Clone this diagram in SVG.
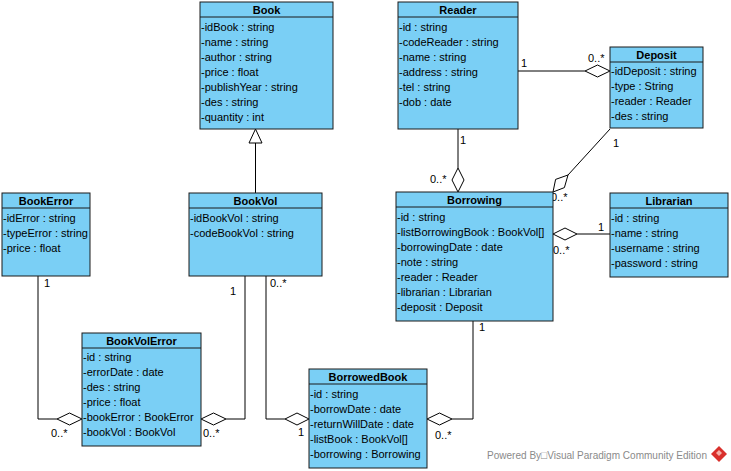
<svg xmlns="http://www.w3.org/2000/svg" width="731" height="471" viewBox="0 0 731 471">
<style>
.box{fill:#7ACFF5;stroke:#1a1a1a;stroke-width:1}
.sep{stroke:#1a1a1a;stroke-width:1}
.t{font-family:"Liberation Sans",Arial,sans-serif;font-size:11px;fill:#000}
.h{font-family:"Liberation Sans",Arial,sans-serif;font-size:11px;font-weight:bold;fill:#000;text-anchor:middle}
.ln{fill:none;stroke:#000;stroke-width:1}
.dia{fill:#fff;stroke:#000;stroke-width:1}
.lb{font-family:"Liberation Sans",Arial,sans-serif;font-size:11px;fill:#000}
.wm{font-family:"Liberation Sans",Arial,sans-serif;font-size:11px;fill:#8a8a8a}
</style>
<rect width="731" height="471" fill="#fff"/>
<g id="connectors">
  <line class="ln" x1="255.5" y1="143" x2="255.5" y2="193"/>
  <polygon class="dia" points="255.5,129 249,143 262,143"/>
  <line class="ln" x1="518" y1="71" x2="585" y2="71"/>
  <polygon class="dia" points="585,71 597.5,65 610,71 597.5,77"/>
  <line class="ln" x1="458" y1="129" x2="458" y2="168"/>
  <polygon class="dia" points="458,168 464,180 458,192 452,180"/>
  <line class="ln" x1="610" y1="129" x2="568" y2="175"/>
  <polygon class="dia" points="568,175 564.4,187.6 553,192 555.6,179.4"/>
  <line class="ln" x1="577" y1="234" x2="610" y2="234"/>
  <polygon class="dia" points="553,234 565,228 577,234 565,240"/>
  <polyline class="ln" points="38,276 38,419 57,419"/>
  <polygon class="dia" points="57,419 69.5,413 82,419 69.5,425"/>
  <polyline class="ln" points="245,276 245,419 226,419"/>
  <polygon class="dia" points="201,419 213.5,413 226,419 213.5,425"/>
  <polyline class="ln" points="266,276 266,419 285,419"/>
  <polygon class="dia" points="285,419 297,413 309,419 297,425"/>
  <polyline class="ln" points="473,321 473,419 452,419"/>
  <polygon class="dia" points="427,419 439.5,413 452,419 439.5,425"/>
  <text class="lb" x="521" y="67">1</text>
  <text class="lb" x="588" y="62">0..*</text>
  <text class="lb" x="460" y="144">1</text>
  <text class="lb" x="430" y="183">0..*</text>
  <text class="lb" x="613" y="147">1</text>
  <text class="lb" x="551" y="201">0..*</text>
  <text class="lb" x="598" y="231">1</text>
  <text class="lb" x="553" y="254">0..*</text>
  <text class="lb" x="44" y="287">1</text>
  <text class="lb" x="51" y="437">0..*</text>
  <text class="lb" x="230" y="295">1</text>
  <text class="lb" x="203" y="437">0..*</text>
  <text class="lb" x="270" y="287">0..*</text>
  <text class="lb" x="298" y="436">1</text>
  <text class="lb" x="479" y="331">1</text>
  <text class="lb" x="435" y="439">0..*</text>
</g>
<g id="Book">
  <rect class="box" x="200" y="2" width="133" height="127"/>
  <line class="sep" x1="200" y1="17" x2="333" y2="17"/>
  <text class="h" x="266.5" y="14">Book</text>
  <text class="t" x="201" y="31">-idBook : string</text>
  <text class="t" x="201" y="46">-name : string</text>
  <text class="t" x="201" y="61">-author : string</text>
  <text class="t" x="201" y="76">-price : float</text>
  <text class="t" x="201" y="91">-publishYear : string</text>
  <text class="t" x="201" y="106">-des : string</text>
  <text class="t" x="201" y="121">-quantity : int</text>
</g>
<g id="Reader">
  <rect class="box" x="398" y="2" width="120" height="127"/>
  <line class="sep" x1="398" y1="17" x2="518" y2="17"/>
  <text class="h" x="458" y="14">Reader</text>
  <text class="t" x="399" y="31">-id : string</text>
  <text class="t" x="399" y="46">-codeReader : string</text>
  <text class="t" x="399" y="61">-name : string</text>
  <text class="t" x="399" y="76">-address : string</text>
  <text class="t" x="399" y="91">-tel : string</text>
  <text class="t" x="399" y="106">-dob : date</text>
</g>
<g id="Deposit">
  <rect class="box" x="610" y="47" width="93" height="81"/>
  <line class="sep" x1="610" y1="62" x2="703" y2="62"/>
  <text class="h" x="656.5" y="59">Deposit</text>
  <text class="t" x="611" y="75">-idDeposit : string</text>
  <text class="t" x="611" y="90">-type : String</text>
  <text class="t" x="611" y="105">-reader : Reader</text>
  <text class="t" x="611" y="120">-des : string</text>
</g>
<g id="BookError">
  <rect class="box" x="2" y="193" width="88" height="83"/>
  <line class="sep" x1="2" y1="208" x2="90" y2="208"/>
  <text class="h" x="46" y="205">BookError</text>
  <text class="t" x="3" y="222">-idError : string</text>
  <text class="t" x="3" y="237">-typeError : string</text>
  <text class="t" x="3" y="252">-price : float</text>
</g>
<g id="BookVol">
  <rect class="box" x="189" y="193" width="133" height="83"/>
  <line class="sep" x1="189" y1="208" x2="322" y2="208"/>
  <text class="h" x="255.5" y="205">BookVol</text>
  <text class="t" x="190" y="222">-idBookVol : string</text>
  <text class="t" x="190" y="237">-codeBookVol : string</text>
</g>
<g id="Borrowing">
  <rect class="box" x="396" y="192" width="157" height="129"/>
  <line class="sep" x1="396" y1="207" x2="553" y2="207"/>
  <text class="h" x="474.5" y="204">Borrowing</text>
  <text class="t" x="397" y="221">-id : string</text>
  <text class="t" x="397" y="236">-listBorrowingBook : BookVol[]</text>
  <text class="t" x="397" y="251">-borrowingDate : date</text>
  <text class="t" x="397" y="266">-note : string</text>
  <text class="t" x="397" y="281">-reader : Reader</text>
  <text class="t" x="397" y="296">-librarian : Librarian</text>
  <text class="t" x="397" y="311">-deposit : Deposit</text>
</g>
<g id="Librarian">
  <rect class="box" x="610" y="193" width="118" height="84"/>
  <line class="sep" x1="610" y1="208" x2="728" y2="208"/>
  <text class="h" x="669" y="205">Librarian</text>
  <text class="t" x="611" y="222">-id : string</text>
  <text class="t" x="611" y="237">-name : string</text>
  <text class="t" x="611" y="252">-username : string</text>
  <text class="t" x="611" y="267">-password : string</text>
</g>
<g id="BookVolError">
  <rect class="box" x="82" y="333" width="119" height="113"/>
  <line class="sep" x1="82" y1="348" x2="201" y2="348"/>
  <text class="h" x="141.5" y="345">BookVolError</text>
  <text class="t" x="83" y="361">-id : string</text>
  <text class="t" x="83" y="376">-errorDate : date</text>
  <text class="t" x="83" y="391">-des : string</text>
  <text class="t" x="83" y="406">-price : float</text>
  <text class="t" x="83" y="421">-bookError : BookError</text>
  <text class="t" x="83" y="436">-bookVol : BookVol</text>
</g>
<g id="BorrowedBook">
  <rect class="box" x="309" y="369" width="118" height="99"/>
  <line class="sep" x1="309" y1="384" x2="427" y2="384"/>
  <text class="h" x="368" y="381">BorrowedBook</text>
  <text class="t" x="310" y="398">-id : string</text>
  <text class="t" x="310" y="413">-borrowDate : date</text>
  <text class="t" x="310" y="428">-returnWillDate : date</text>
  <text class="t" x="310" y="443">-listBook : BookVol[]</text>
  <text class="t" x="310" y="458">-borrowing : Borrowing</text>
</g>
<g id="watermark">
  <text class="wm" x="487" y="459" textLength="220" lengthAdjust="spacingAndGlyphs">Powered By□Visual Paradigm Community Edition</text>
  <polygon points="719,446 727,454 719,462 711,454" fill="#d9302c"/>
  <polygon points="719,450 722,453 719,456 716,453" fill="#f6b0a8"/>
</g>
</svg>
